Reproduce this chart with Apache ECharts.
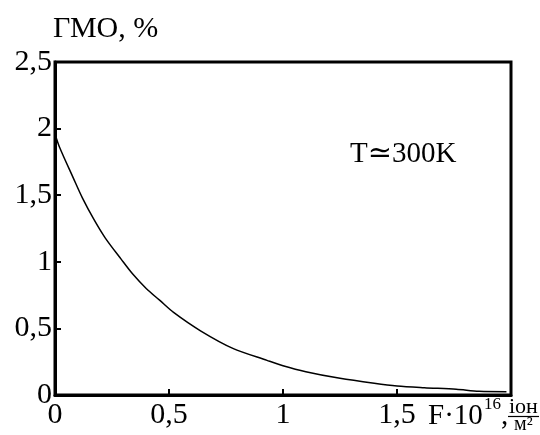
<!DOCTYPE html>
<html><head><meta charset="utf-8">
<script src="https://cdn.jsdelivr.net/npm/echarts@6/dist/echarts.min.js"></script>
<style>html,body{margin:0;padding:0;background:#fff}#c{width:540px;height:435px}</style>
</head><body><div id="c"></div>
<script>
var fluence = [0, 0.02, 0.08, 0.12, 0.17, 0.22, 0.29, 0.34, 0.40, 0.46, 0.52, 0.64, 0.78, 0.93, 1.0, 1.1, 1.25, 1.4, 1.5, 1.62, 1.76, 1.86, 1.98];
var gmo = [1.96, 1.86, 1.63, 1.48, 1.32, 1.18, 1.02, 0.91, 0.80, 0.71, 0.62, 0.48, 0.35, 0.26, 0.22, 0.175, 0.125, 0.088, 0.068, 0.055, 0.043, 0.028, 0.025];
var xTicks = [0, 0.5, 1, 1.5];
var yTicks = [0, 0.5, 1, 1.5, 2, 2.5];
var yName = 'ГМО, %';
var note = 'T≃300K';

var font = '"Liberation Serif", "DejaVu Serif", serif';
function fmt(v){ return String(v).replace('.', ','); }
var chart = echarts.init(document.getElementById('c'));
chart.setOption({
  animation: false,
  grid: {left: 55, right: 29, top: 62, bottom: 40, show: true, borderColor: '#000', borderWidth: 3, backgroundColor: 'transparent'},
  xAxis: {
    type: 'value', min: 0, max: 2, interval: 0.5,
    axisLine: {lineStyle: {color: '#000', width: 3}},
    axisTick: {inside: true, length: 6, lineStyle: {color: '#000', width: 2}},
    splitLine: {show: false},
    axisLabel: {color: '#000', fontFamily: font, fontSize: 30, margin: 5,
      formatter: function(v){ return xTicks.indexOf(v) >= 0 ? fmt(v) : ''; }}
  },
  yAxis: {
    type: 'value', min: 0, max: 2.5, interval: 0.5,
    axisLine: {lineStyle: {color: '#000', width: 3}},
    axisTick: {inside: true, length: 6, lineStyle: {color: '#000', width: 2}},
    splitLine: {show: false},
    axisLabel: {color: '#000', fontFamily: font, fontSize: 30, margin: 3,
      formatter: function(v){ return yTicks.indexOf(v) >= 0 ? fmt(v) : ''; }}
  },
  series: [{
    type: 'line', smooth: 0.3, symbol: 'none',
    lineStyle: {color: '#000', width: 1.5},
    data: fluence.map(function(f, i){ return [f, gmo[i]]; })
  }],
  graphic: [
    {type: 'text', left: 53, top: 14, style: {text: yName, font: '30px ' + font, fill: '#000'}},
    {type: 'text', left: 350, top: 140, style: {text: note, font: '29px ' + font, fill: '#000'}},
    {type: 'text', left: 428, top: 402, style: {text: 'F·10', font: '29px ' + font, fill: '#000'}},
    {type: 'text', left: 484, top: 396, style: {text: '16', font: '17px ' + font, fill: '#000'}},
    {type: 'text', left: 501, top: 402, style: {text: ',', font: '29px ' + font, fill: '#000'}},
    {type: 'text', left: 509, top: 396, style: {text: 'іон', font: '22px ' + font, fill: '#000'}},
    {type: 'line', shape: {x1: 508, y1: 416.5, x2: 539, y2: 416.5}, style: {stroke: '#000', lineWidth: 1.2}},
    {type: 'text', left: 514, top: 415, style: {text: 'м²', font: '20px ' + font, fill: '#000'}}
  ]
});
</script></body></html>
